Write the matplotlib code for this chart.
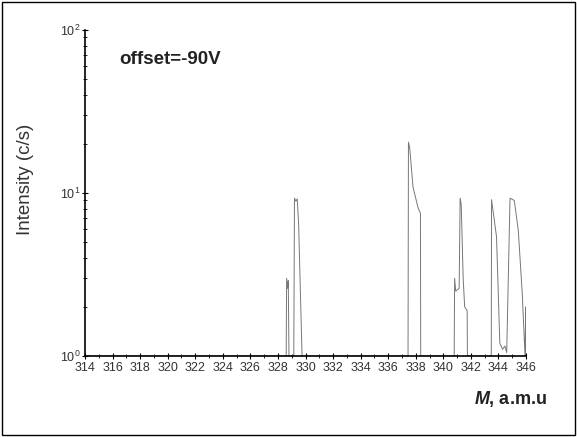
import matplotlib
matplotlib.use("Agg")
import matplotlib.pyplot as plt
from matplotlib.ticker import LogLocator, MultipleLocator, NullFormatter, FixedLocator
from matplotlib.patches import Rectangle

plt.rcParams['font.family'] = ['Liberation Sans', 'DejaVu Sans']
plt.rcParams['mathtext.fontset'] = 'custom'
plt.rcParams['mathtext.it'] = 'Liberation Sans:italic:bold'
plt.rcParams['mathtext.rm'] = 'Liberation Sans'

mass = [314.0, 328.60, 328.63, 328.70, 328.75, 328.80, 329.15, 329.20, 329.30, 329.40, 329.50, 329.75,
        337.44, 337.47, 337.56, 337.80, 338.17, 338.34, 338.36,
        340.79, 340.82, 340.90, 341.15, 341.22, 341.30, 341.44, 341.55, 341.73, 341.75,
        343.48, 343.50, 343.86, 344.10, 344.30, 344.47, 344.60, 344.84, 345.15, 345.44, 345.73, 345.93,
        345.98, 346.0]
intensity = [1.0, 1.0, 3.0, 2.6, 2.9, 1.0, 1.0, 9.3, 8.9, 9.2, 6.5, 1.0,
             1.0, 20.5, 19.0, 10.9, 8.1, 7.5, 1.0,
             1.0, 3.0, 2.5, 2.6, 9.3, 8.5, 3.0, 2.0, 1.9, 1.0,
             1.0, 9.1, 5.4, 1.2, 1.1, 1.15, 1.05, 9.3, 9.0, 5.9, 2.4, 1.0,
             2.0, 1.0]

xticks = list(range(314, 347, 2))

fig = plt.figure(figsize=(5.77, 4.37), dpi=100)
fig.patches.append(Rectangle((0.004, 0.005), 0.992, 0.99, transform=fig.transFigure,
                             fill=False, edgecolor='black', linewidth=1.0))
ax = fig.add_axes([85/577, (437-356)/437, (526-85)/577, (356-30)/437])
ax.plot(mass, intensity, color='#777777', linewidth=0.7)
ax.set_yscale('log')
ax.set_xlim(314, 346)
ax.set_ylim(1, 100)
ax.spines['top'].set_visible(False)
ax.spines['right'].set_visible(False)
ax.spines['left'].set_linewidth(1.2)
ax.spines['bottom'].set_linewidth(1.2)
ax.xaxis.set_major_locator(FixedLocator(xticks))
ax.xaxis.set_minor_locator(MultipleLocator(1))
ax.set_xticklabels([str(t) for t in xticks], fontsize=9, color='#333333')
ax.yaxis.set_major_locator(LogLocator(base=10))
ax.yaxis.set_minor_locator(LogLocator(base=10, subs=range(2, 10)))
ax.yaxis.set_minor_formatter(NullFormatter())
ax.tick_params(axis='both', which='major', direction='inout', length=5, width=0.8, labelsize=9,
               labelcolor='#333333')
ax.tick_params(axis='both', which='minor', direction='inout', length=3, width=0.6)
ax.tick_params(axis='y', pad=1)
ax.tick_params(axis='x', pad=2)
ax.set_ylabel('Intensity (c/s)', fontsize=13.5, color='#333333')
ax.yaxis.set_label_coords(-0.115, 0.543)
ax.text(0.078, 0.895, 'offset=-90V', transform=ax.transAxes, fontsize=13.5, fontweight='bold',
        color='#222222')
fig.text(0.822, 0.075, r'$M$, a.m.u', fontsize=13, color='#222222', fontweight='bold')
fig.savefig('out.png', dpi=100)
